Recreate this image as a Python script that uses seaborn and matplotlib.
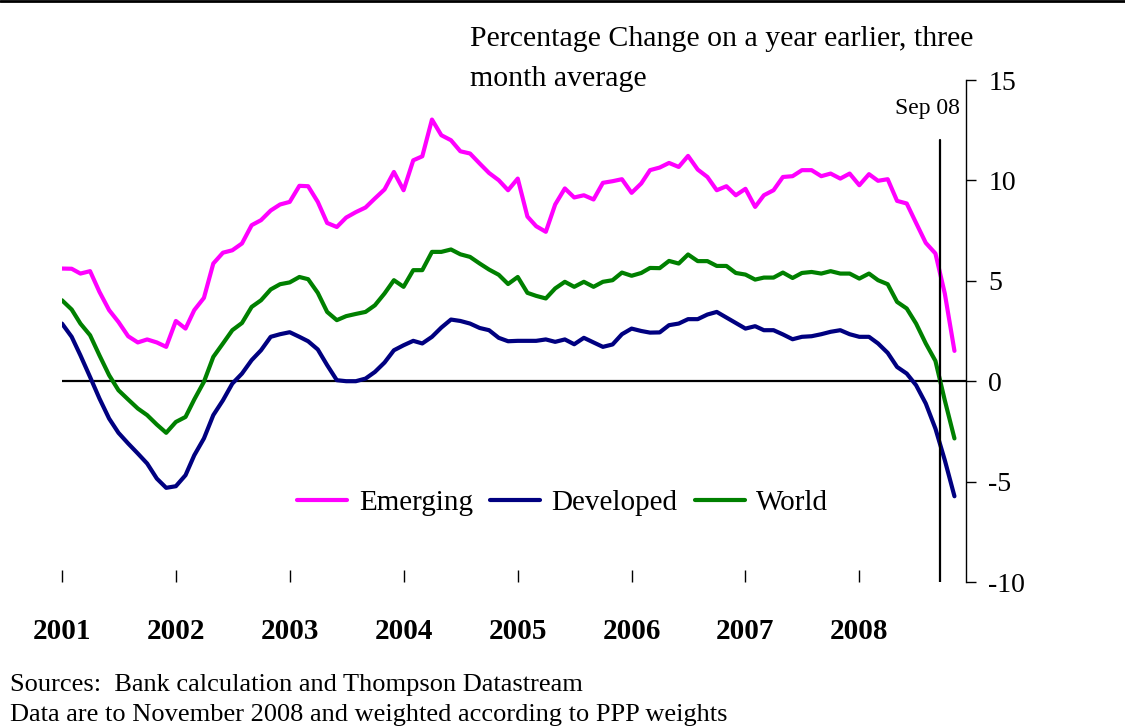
import matplotlib
matplotlib.use("Agg")
import matplotlib.pyplot as plt
from matplotlib.lines import Line2D
import seaborn as sns
import numpy as np
import pandas as pd

# monthly data, Jan 2001 - Nov 2008
months = pd.date_range("2001-01-01", periods=95, freq="MS")

emerging = [5.61, 5.6, 5.36, 5.48, 4.45, 3.54, 2.95, 2.24, 1.93, 2.08, 1.93, 1.71,
            3.0, 2.62, 3.54, 4.15, 5.86, 6.4, 6.52, 6.86, 7.77, 8.02, 8.5, 8.8,
            8.93, 9.73, 9.71, 8.93, 7.88, 7.68, 8.15, 8.42, 8.65, 9.1, 9.55, 10.42,
            9.51, 11.0, 11.2, 13.03, 12.25, 12.0, 11.45, 11.34, 10.84, 10.37, 10.01, 9.51,
            10.09, 8.2, 7.72, 7.44, 8.8, 9.6, 9.15, 9.26, 9.05, 9.88, 9.96, 10.06,
            9.38, 9.85, 10.51, 10.64, 10.87, 10.67, 11.22, 10.54, 10.17, 9.51, 9.71, 9.26,
            9.58, 8.68, 9.26, 9.51, 10.17, 10.21, 10.51, 10.51, 10.21, 10.34, 10.09, 10.34,
            9.76, 10.31, 9.98, 10.06, 8.98, 8.85, 7.88, 6.89, 6.36, 4.37, 1.51]

developed = [2.87, 2.21, 1.29, 0.21, -0.86, -1.86, -2.57, -3.1, -3.6, -4.1, -4.85, -5.31,
             -5.23, -4.68, -3.69, -2.85, -1.69, -0.95, -0.12, 0.38, 1.05, 1.54, 2.21, 2.34,
             2.44, 2.21, 1.99, 1.58, 0.8, 0.05, 0.0, 0.0, 0.13, 0.46, 0.93, 1.54,
             1.79, 2.01, 1.88, 2.21, 2.67, 3.07, 3.0, 2.87, 2.65, 2.54, 2.16, 1.99,
             2.01, 2.01, 2.01, 2.08, 1.96, 2.08, 1.84, 2.16, 1.93, 1.71, 1.83, 2.34,
             2.62, 2.5, 2.42, 2.43, 2.79, 2.87, 3.09, 3.09, 3.32, 3.45, 3.17, 2.9,
             2.62, 2.74, 2.54, 2.54, 2.33, 2.09, 2.21, 2.24, 2.34, 2.46, 2.54, 2.34,
             2.21, 2.21, 1.88, 1.41, 0.71, 0.38, -0.2, -1.11, -2.36, -3.93, -5.73]

world = [4.03, 3.57, 2.87, 2.29, 1.29, 0.3, -0.45, -0.91, -1.36, -1.69, -2.16, -2.57,
         -2.03, -1.78, -0.91, -0.03, 1.21, 1.88, 2.54, 2.9, 3.7, 4.03, 4.57, 4.83,
         4.92, 5.19, 5.08, 4.4, 3.45, 3.04, 3.24, 3.35, 3.45, 3.78, 4.37, 5.03,
         4.7, 5.53, 5.53, 6.44, 6.44, 6.56, 6.32, 6.19, 5.86, 5.56, 5.3, 4.84,
         5.19, 4.4, 4.25, 4.12, 4.62, 4.95, 4.7, 4.95, 4.7, 4.95, 5.03, 5.41,
         5.25, 5.39, 5.64, 5.63, 5.99, 5.86, 6.31, 5.98, 5.98, 5.74, 5.74, 5.39,
         5.31, 5.06, 5.16, 5.16, 5.41, 5.14, 5.39, 5.44, 5.36, 5.48, 5.36, 5.36,
         5.11, 5.36, 5.03, 4.83, 3.95, 3.62, 2.87, 1.88, 1.01, -0.95, -2.85]

series_names = ["Emerging", "Developed", "World"]
colors = {"Emerging": "#FF00FF", "Developed": "#000080", "World": "#008000"}
year_labels = ["2001", "2002", "2003", "2004", "2005", "2006", "2007", "2008"]

df = pd.DataFrame({"date": months, "Emerging": emerging,
                   "Developed": developed, "World": world})
long_df = df.melt(id_vars="date", var_name="series", value_name="value")

sns.set_style("white")
plt.rcParams["font.family"] = ["Liberation Serif", "DejaVu Serif"]
plt.rcParams["text.color"] = "black"
plt.rcParams["xtick.color"] = "black"
plt.rcParams["ytick.color"] = "black"

fig = plt.figure(figsize=(11.25, 7.26), dpi=100)
ax = fig.add_axes([62 / 1125, 1 - 582 / 726, (966 - 62) / 1125, (582 - 80) / 726])

sns.lineplot(data=long_df, x="date", y="value", hue="series", hue_order=series_names,
             palette=colors, linewidth=3, ax=ax)

ax.axhline(0, color="black", lw=1.6, zorder=1)
ax.axvline(pd.Timestamp("2008-09-15"), ymin=0, ymax=(582 - 140) / 502,
           color="black", lw=1.6)
ax.text(0.993, 0.944, "Sep 08", transform=ax.transAxes, ha="right", va="center",
        fontsize=17)

ax.set_xlim(pd.Timestamp("2001-01-01"), pd.Timestamp("2008-12-08"))
ax.set_ylim(-10, 15)
ax.set_xlabel("")
ax.set_ylabel("")

# x axis: year ticks with bold labels
ax.set_xticks([pd.Timestamp(f"{y}-01-01") for y in year_labels])
ax.set_xticklabels(year_labels, fontweight="bold", fontsize=21)
ax.tick_params(axis="x", direction="in", length=9, width=1, pad=26, bottom=True)

# y axis on right side
ax.yaxis.tick_right()
ax.set_yticks([-10, -5, 0, 5, 10, 15])
ax.set_yticklabels(["-10", "-5", "0", "5", "10", "15"], fontsize=20)
ax.tick_params(axis="y", direction="out", length=7, width=1, pad=9, right=True, left=False)

for side in ["left", "top", "bottom"]:
    ax.spines[side].set_visible(False)
ax.spines["right"].set_color("black")
ax.spines["right"].set_linewidth(1)

ax.legend(loc="center", bbox_to_anchor=(0.554, 0.157), ncol=3, frameon=False,
          fontsize=21, handlelength=1.7, handletextpad=0.4, columnspacing=0.6)

fig.text(470 / 1125, 1 - 46 / 726, "Percentage Change on a year earlier, three",
         ha="left", va="baseline", fontsize=21.5)
fig.text(470 / 1125, 1 - 86 / 726, "month average",
         ha="left", va="baseline", fontsize=21.5)

fig.text(10 / 1125, 1 - 685 / 726, "Sources:  Bank calculation and Thompson Datastream",
         ha="left", va="center", fontsize=19)
fig.text(10 / 1125, 1 - 715 / 726, "Data are to November 2008 and weighted according to PPP weights",
         ha="left", va="center", fontsize=19)

fig.add_artist(Line2D([0, 1], [0.998, 0.998], transform=fig.transFigure,
                      color="black", lw=2))

fig.savefig("out.png", dpi=100)
